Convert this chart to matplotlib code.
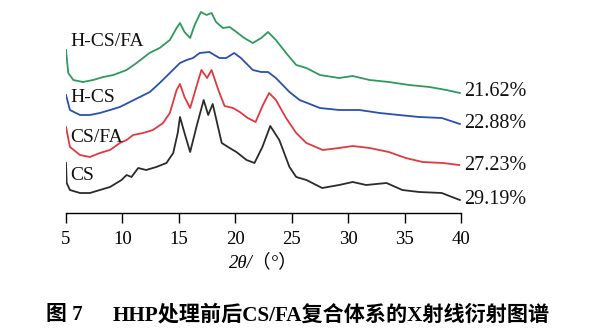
import matplotlib
matplotlib.use("Agg")
import matplotlib.pyplot as plt

### XRD patterns (2theta in degrees, intensity in a.u.)
tt_cs = [5.0, 5.06, 5.35, 6.24, 7.12, 8.0, 8.9, 9.92, 10.37, 10.8, 11.4, 12.1, 13.0, 13.9,
         14.5, 14.9, 15.1, 15.5, 16.0, 16.6, 17.2, 17.6, 18.0, 18.8, 19.5, 20.1, 21.0, 21.7,
         22.4, 23.1, 23.9, 24.8, 25.4, 26.3, 27.7, 29.2, 30.4, 31.6, 33.4, 34.8, 36.3, 38.3,
         39.2, 39.9]
i_cs = [50, 30, 23, 20, 20, 23, 26, 33, 38, 36, 45, 43, 46, 50,
        60, 80, 96, 80, 61, 88, 113, 98, 109, 70, 65, 61, 53, 50,
        66, 87, 73, 46, 36, 33, 25, 28, 31, 28, 30, 23, 21, 20,
        16, 13]

tt_csfa = [5.0, 5.35, 6.24, 7.12, 8.0, 8.9, 9.77, 10.37, 10.95, 11.83, 12.7, 13.6, 14.2,
           14.8, 15.1, 15.5, 16.0, 16.55, 17.0, 17.5, 17.9, 18.5, 19.05, 19.8, 20.4, 21.1,
           21.8, 22.45, 23.0, 23.6, 24.0, 24.5, 25.4, 26.3, 27.75, 29.2, 30.4, 31.9, 33.6,
           35.1, 36.6, 38.4, 39.85]
i_csfa = [86, 66, 58, 56, 60, 63, 70, 73, 78, 80, 83, 90, 100,
          123, 129, 116, 105, 126, 143, 135, 143, 123, 107, 105, 101, 95,
          91, 108, 120, 113, 105, 95, 80, 70, 63, 65, 67, 65, 61,
          55, 51, 50, 48]

tt_hcs = [5.0, 5.35, 6.24, 7.12, 8.0, 8.9, 9.77, 10.66, 11.54, 12.43, 13.3, 14.2, 15.1,
          15.7, 16.25, 16.85, 17.7, 18.6, 19.2, 19.9, 20.5, 21.55, 22.3, 22.9, 23.6, 24.8,
          25.7, 27.5, 29.2, 31.0, 32.8, 34.5, 36.3, 38.3, 39.9]
i_hcs = [118, 103, 98, 98, 100, 103, 106, 111, 116, 121, 130, 140, 150,
         153, 155, 160, 161, 155, 155, 160, 155, 143, 141, 141, 135, 121,
         113, 105, 103, 103, 100, 98, 96, 95, 89]

tt_hcsfa = [5.0, 5.2, 5.65, 6.5, 7.4, 8.3, 9.2, 10.37, 11.25, 12.4, 13.3, 14.2, 14.8, 15.1,
            15.5, 16.0, 16.4, 16.95, 17.45, 17.9, 18.3, 18.9, 19.5, 20.1, 20.8, 21.55, 22.3,
            22.9, 23.6, 24.5, 25.4, 26.3, 27.5, 29.2, 30.4, 31.9, 33.6, 35.4, 37.2, 38.7,
            39.9]
i_hcsfa = [163, 140, 133, 131, 133, 136, 138, 143, 150, 160, 165, 173, 185, 190,
           181, 175, 188, 201, 198, 200, 191, 185, 186, 181, 175, 170, 175,
           181, 173, 160, 148, 145, 138, 135, 137, 133, 131, 128, 126, 123,
           120]

names = ["CS", "CS/FA", "H-CS", "H-CS/FA"]
crystallinity = ["29.19%", "27.23%", "22.88%", "21.62%"]
xticks = [5, 10, 15, 20, 25, 30, 35, 40]

series = [(tt_cs, i_cs), (tt_csfa, i_csfa), (tt_hcs, i_hcs), (tt_hcsfa, i_hcsfa)]
colors = ["#2b2b2b", "#e0393f", "#2a50ad", "#2f9a5c"]
name_y = [38, 76, 116, 171]      # where the sample names sit
pct_y = [13, 47, 89, 121]        # where the crystallinity labels sit

serif = ["Liberation Serif", "Noto Sans CJK SC"]

fig = plt.figure(figsize=(5.95, 3.32), dpi=100)
ax = fig.add_axes([66/595, 119/332, 395/595, 213/332])

for (tt, ii), c in zip(series, colors):
    ax.plot(tt, ii, color=c, lw=1.3, solid_joinstyle="round")

for nm, y, c in zip(names, name_y, colors):
    ax.text(5.35, y, nm, fontsize=14, family=serif, color="#111111", va="center", ha="left")
for p, y in zip(crystallinity, pct_y):
    ax.text(40.3, y, p, fontsize=14.5, family=serif, color="#111111", va="center", ha="left",
            clip_on=False)

ax.set_xlim(5, 40)
ax.set_ylim(0, 213)
for s in ["top", "right", "left"]:
    ax.spines[s].set_visible(False)
ax.spines["bottom"].set_linewidth(1.0)
ax.set_yticks([])
ax.set_xticks(xticks)
ax.set_xticklabels([str(t) for t in xticks], family=serif, fontsize=13.5)
ax.tick_params(axis="x", direction="out", length=7, width=1.0, pad=6)
ax.set_xlabel("2θ/（°）", family=serif, fontsize=13.5, style="italic", labelpad=4)

# caption
fig.text(46/595, 1 - 315/332, "图 7", family=serif, fontsize=15, weight="bold", va="center")
fig.text(113/595, 1 - 315/332, "HHP处理前后CS/FA复合体系的X射线衍射图谱", family=serif,
         fontsize=15.2, weight="bold", va="center")

fig.savefig("out.png", dpi=100)
